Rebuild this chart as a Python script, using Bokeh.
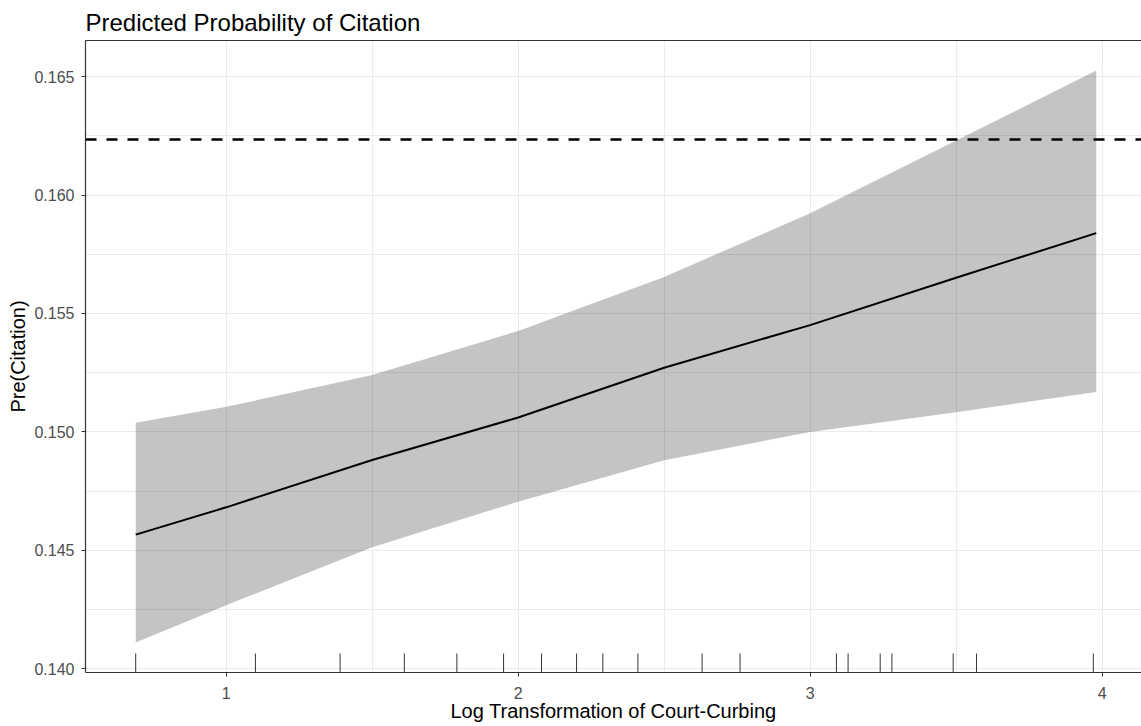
from bokeh.plotting import figure
from bokeh.models import Range1d, FixedTicker, LinearAxis, Span, PrintfTickFormatter
from bokeh.embed import file_html
from bokeh.resources import INLINE

# ---- data ----
x_vals = [0.69, 1.0, 1.5, 2.0, 2.5, 3.0, 3.5, 3.98]
fit_vals = [0.14567, 0.14682, 0.14882, 0.15061, 0.15271, 0.15451, 0.15651, 0.15839]
upper_vals = [0.15039, 0.15106, 0.15240, 0.15426, 0.15654, 0.15923, 0.16230, 0.16525]
lower_vals = [0.14112, 0.14269, 0.14514, 0.14706, 0.14881, 0.15000, 0.15083, 0.15169]
rug_vals = [0.69, 1.10, 1.39, 1.61, 1.79, 1.95, 2.08, 2.20, 2.29, 2.41, 2.63, 2.76,
            3.09, 3.13, 3.24, 3.28, 3.49, 3.57, 3.97]
baseline_val = 0.16234
x_ticks = [1, 2, 3, 4]
x_minor = [0.5, 1.5, 2.5, 3.5]
y_ticks = [0.140, 0.145, 0.150, 0.155, 0.160, 0.165]
y_minor = [0.1375, 0.1425, 0.1475, 0.1525, 0.1575, 0.1625, 0.1675]
title_text = "Predicted Probability of Citation"
x_label = "Log Transformation of Court-Curbing"
y_label = "Pre(Citation)"

FONT = "Liberation Sans"
x_lo, x_hi = 0.518, 4.135
y_lo, y_hi = 0.13985, 0.16652

p = figure(width=1141, height=726, output_backend="svg", toolbar_location=None,
           x_range=Range1d(x_lo, x_hi), y_range=Range1d(y_lo, y_hi),
           title=title_text, min_border_left=85, min_border_right=0,
           min_border_top=40, min_border_bottom=54)
p.outline_line_color = None
p.background_fill_color = "white"
p.border_fill_color = "white"

p.title.text_font = FONT
p.title.text_font_size = "24px"
p.title.text_font_style = "normal"
p.title.text_color = "black"
p.title.standoff = 10
p.title.offset = 0

xt = FixedTicker(ticks=x_ticks, minor_ticks=x_minor)
yt = FixedTicker(ticks=y_ticks, minor_ticks=y_minor)
p.xaxis.ticker = xt
p.yaxis.ticker = yt
p.yaxis.formatter = PrintfTickFormatter(format="%.3f")
p.xaxis.formatter = PrintfTickFormatter(format="%d")

for ax in (p.xaxis, p.yaxis):
    ax.axis_line_color = "#333333"
    ax.axis_line_width = 1.2
    ax.major_tick_line_color = "#333333"
    ax.major_tick_out = 4
    ax.major_tick_in = 0
    ax.minor_tick_line_color = None
    ax.major_label_text_font = FONT
    ax.major_label_text_font_size = "16px"
    ax.major_label_text_color = "#4D4D4D"
    ax.axis_label_text_font = FONT
    ax.axis_label_text_font_size = "20px"
    ax.axis_label_text_font_style = "normal"
    ax.axis_label_text_color = "black"

p.xaxis.major_label_standoff = 10
p.xaxis.axis_label_standoff = -2
p.yaxis.major_label_standoff = 7
p.yaxis.axis_label_standoff = 2

p.xaxis.axis_label = x_label
p.yaxis.axis_label = y_label

p.xgrid.ticker = xt
p.ygrid.ticker = yt
for g in (p.xgrid, p.ygrid):
    g.grid_line_color = "#EBEBEB"
    g.grid_line_width = 1
    g.minor_grid_line_color = "#EBEBEB"
    g.minor_grid_line_width = 1

# top border of the panel
top_axis = LinearAxis(ticker=FixedTicker(ticks=[]), major_label_text_font_size="0px",
                      major_tick_line_color=None, minor_tick_line_color=None,
                      major_tick_out=0, major_tick_in=0, minor_tick_out=0,
                      major_label_standoff=0, axis_label_standoff=0,
                      axis_line_color="#333333", axis_line_width=1.2)
p.add_layout(top_axis, "above")

# confidence band
p.varea(x=x_vals, y1=lower_vals, y2=upper_vals, fill_color="black", fill_alpha=0.23)
# fitted line
p.line(x_vals, fit_vals, line_color="black", line_width=2)
# reference dashed line
p.add_layout(Span(location=baseline_val, dimension="width", line_color="black",
                  line_width=2.5, line_dash="11 10"))
# rug
rug_len = 0.03 * (y_hi - y_lo)
p.segment(x0=rug_vals, y0=[y_lo] * len(rug_vals), x1=rug_vals,
          y1=[y_lo + rug_len] * len(rug_vals), line_color="#333333", line_width=1)

open("out.html", "w").write(file_html(p, INLINE))
